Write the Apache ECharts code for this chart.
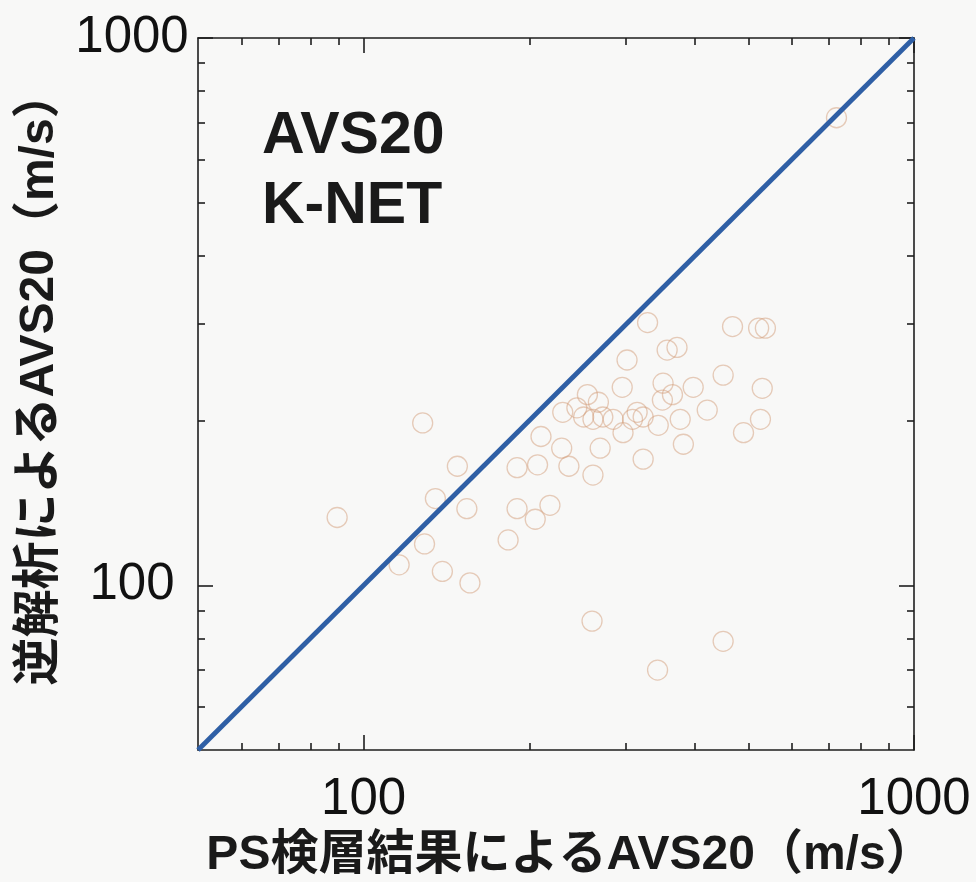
<!DOCTYPE html>
<html>
<head>
<meta charset="utf-8">
<script src="https://cdn.jsdelivr.net/npm/echarts@6/dist/echarts.min.js"></script>
<style>
  html, body { margin: 0; padding: 0; background: #f8f8f7; }
  #chart { width: 976px; height: 882px; }
</style>
</head>
<body>
<div id="chart"></div>
<script>
// AVS20 from PS logging (x) vs. AVS20 from inversion (y), K-NET sites, m/s
const psLoggingAVS20 = [
  89.5, 128, 148, 135, 154, 129, 116, 139, 156, 190,
  207, 210, 230, 244, 255, 251, 261, 267, 272, 284,
  229, 236, 269, 261, 218, 190, 205, 183, 328, 356,
  371, 301, 295, 350, 397, 349, 364, 314, 308, 322,
  343, 376, 421, 296, 381, 322, 468, 522, 537, 450,
  530, 526, 490, 723, 260, 450, 342
];
const inversionAVS20 = [
  133, 198, 165, 144, 138, 119, 109, 106, 101, 164,
  166, 187, 207, 211, 223, 203, 201, 216, 203, 201,
  178, 165, 178, 159, 140, 138, 132, 121, 302, 269,
  272, 258, 230, 234, 230, 218, 223, 207, 201, 203,
  196, 201, 209, 190, 181, 170, 297, 295, 295, 242,
  229, 201, 190, 715, 86, 79, 70
];
// 1:1 reference line
const oneToOne = [[50, 50], [1000, 1000]];

// axis range and ticks
const axisMin = 50;
const axisMax = 1000;
const majorTicks = [100, 1000];
const minorTicks = [60, 70, 80, 90, 200, 300, 400, 500, 600, 700, 800, 900];
const tickLabels = [100, 1000];

const xTitle = 'PS検層結果によるAVS20（m/s）';
const yTitle = '逆解析によるAVS20（m/s）';
const panelLines = ['AVS20', 'K-NET'];

const points = psLoggingAVS20.map((x, i) => [x, inversionAVS20[i]]);

const lineCol = '#1e1e1e';
const labelFont = '"Liberation Sans", Arial, sans-serif';

function makeAxis(position, ticks, len, showLine, showLabel, isY) {
  return {
    type: 'log',
    logBase: 10,
    min: axisMin,
    max: axisMax,
    position: position,
    gridIndex: 0,
    axisLine: { show: showLine, onZero: false, lineStyle: { color: lineCol, width: 1.6 } },
    axisTick: { show: true, inside: true, length: len, customValues: ticks,
                lineStyle: { color: lineCol, width: 1.6 } },
    minorTick: { show: false },
    splitLine: { show: false },
    minorSplitLine: { show: false },
    axisLabel: showLabel ? {
      show: true,
      customValues: tickLabels,
      color: '#111',
      fontFamily: labelFont,
      fontSize: 51,
      margin: isY ? 66 : 24,
      align: 'center',
      formatter: v => String(Math.round(v))
    } : { show: false }
  };
}

const chart = echarts.init(document.getElementById('chart'), null, { renderer: 'canvas' });
chart.setOption({
  backgroundColor: '#f8f8f7',
  animation: false,
  grid: { left: 198, top: 38, right: 62, bottom: 132, containLabel: false, outerBoundsMode: 'none' },
  xAxis: [
    makeAxis('bottom', minorTicks, 7, true, true, false),
    makeAxis('bottom', majorTicks, 15, false, false, false),
    makeAxis('top', minorTicks, 7, true, false, false),
    makeAxis('top', majorTicks, 15, false, false, false)
  ],
  yAxis: [
    makeAxis('left', minorTicks, 7, true, true, true),
    makeAxis('left', majorTicks, 15, false, false, true),
    makeAxis('right', minorTicks, 7, true, false, true),
    makeAxis('right', majorTicks, 15, false, false, true)
  ],
  series: [
    {
      type: 'scatter',
      xAxisIndex: 0,
      yAxisIndex: 0,
      data: points,
      symbol: 'circle',
      symbolSize: 20,
      itemStyle: {
        color: 'rgba(0,0,0,0)',
        borderColor: 'rgba(210,155,120,0.62)',
        borderWidth: 1.3
      },
      z: 2
    },
    {
      type: 'line',
      xAxisIndex: 0,
      yAxisIndex: 0,
      data: oneToOne,
      symbol: 'none',
      lineStyle: { color: '#2f5fa5', width: 4.8 },
      z: 3
    }
  ],
  graphic: [
    {
      type: 'text',
      left: 262,
      top: 102,
      style: {
        text: panelLines.join('\n'),
        font: 'bold 59px "Liberation Sans", Arial, sans-serif',
        lineHeight: 70,
        fill: '#1a1a1a'
      }
    },
    {
      type: 'text',
      x: 570,
      y: 856,
      style: {
        text: xTitle,
        font: 'bold 48px "Liberation Sans", "Noto Sans CJK JP", sans-serif',
        fill: '#1a1a1a',
        align: 'center',
        verticalAlign: 'middle'
      }
    },
    {
      type: 'text',
      x: 40,
      y: 378,
      rotation: Math.PI / 2,
      style: {
        text: yTitle,
        font: 'bold 48px "Liberation Sans", "Noto Sans CJK JP", sans-serif',
        fill: '#1a1a1a',
        align: 'center',
        verticalAlign: 'middle'
      }
    }
  ]
});
</script>
</body>
</html>
